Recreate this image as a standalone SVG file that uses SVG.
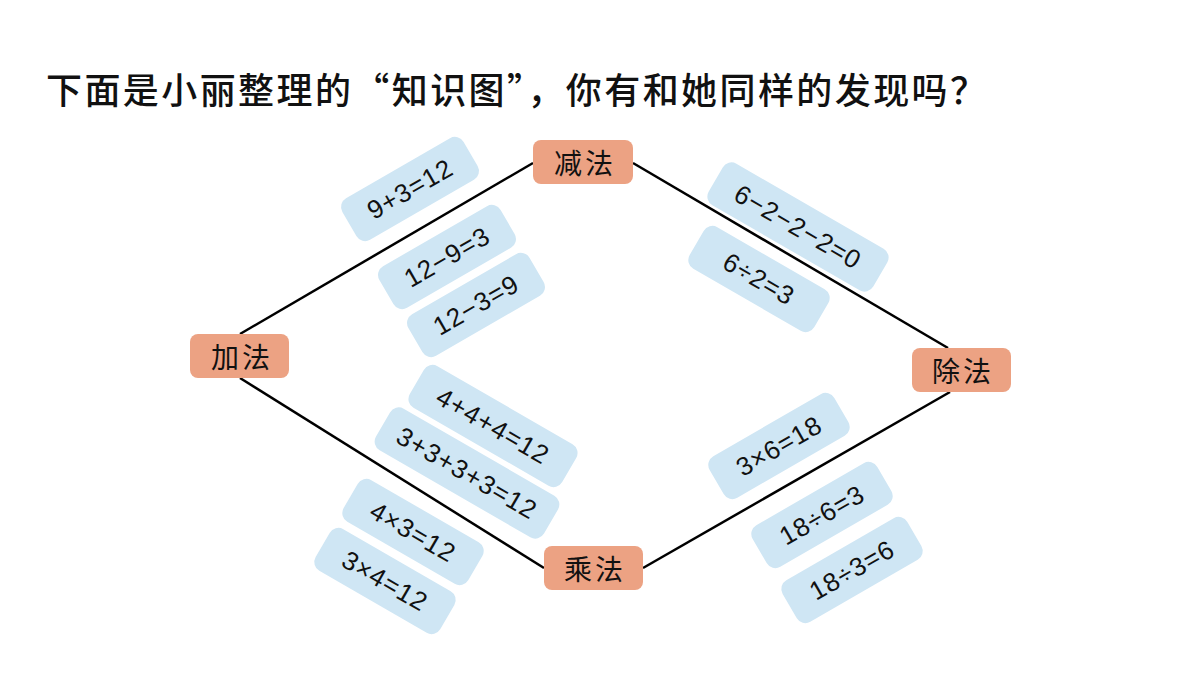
<svg xmlns="http://www.w3.org/2000/svg" width="1200" height="675" viewBox="0 0 1200 675">
<style>
.n rect{fill:#eca283;}
.n text{font-family:"Noto Sans CJK SC",sans-serif;font-size:28px;fill:#111;text-anchor:middle;dominant-baseline:central;letter-spacing:3px;}
.p rect{fill:#cfe6f4;}
.p text{font-family:"Liberation Sans",sans-serif;font-size:26px;fill:#111;text-anchor:middle;dominant-baseline:central;letter-spacing:1px;}
.c line{stroke:#000;stroke-width:2.5;}
</style>
<rect width="1200" height="675" fill="#fff"/>
<text x="46" y="104" font-family="Noto Sans CJK SC,sans-serif" font-size="36" font-weight="500" fill="#111" textLength="940">下面是小丽整理的“知识图”，你有和她同样的发现吗？</text>
<g id="connectors" class="c">
<line x1="240" y1="334" x2="533" y2="163"/>
<line x1="633" y1="163" x2="948" y2="348"/>
<line x1="240" y1="378" x2="544" y2="568"/>
<line x1="643" y1="568" x2="950" y2="392"/>
</g>
<g id="n-jian" class="n"><rect x="533" y="140" width="100" height="44" rx="8"/><text x="585" y="162">减法</text></g>
<g id="n-jia" class="n"><rect x="190" y="334" width="99" height="44" rx="8"/><text x="242" y="356">加法</text></g>
<g id="n-chu" class="n"><rect x="912" y="348" width="99" height="44" rx="8"/><text x="963" y="370">除法</text></g>
<g id="n-cheng" class="n"><rect x="544" y="546" width="99" height="44" rx="8"/><text x="595" y="568">乘法</text></g>
<g id="p1" class="p" transform="translate(410,189) rotate(-30)"><rect x="-70" y="-24" width="140" height="48" rx="10"/><text>9+3=12</text></g>
<g id="p2" class="p" transform="translate(447,257) rotate(-30)"><rect x="-70" y="-24" width="140" height="48" rx="10"/><text>12−9=3</text></g>
<g id="p3" class="p" transform="translate(476,305) rotate(-30)"><rect x="-70" y="-24" width="140" height="48" rx="10"/><text>12−3=9</text></g>
<g id="p4" class="p" transform="translate(798,227) rotate(30)"><rect x="-95" y="-24" width="190" height="48" rx="10"/><text>6−2−2−2=0</text></g>
<g id="p5" class="p" transform="translate(759,279) rotate(30)"><rect x="-72" y="-24" width="144" height="48" rx="10"/><text>6÷2=3</text></g>
<g id="p6" class="p" transform="translate(493,426) rotate(30)"><rect x="-88" y="-24" width="176" height="48" rx="10"/><text>4+4+4=12</text></g>
<g id="p7" class="p" transform="translate(467,473) rotate(30)"><rect x="-97" y="-24" width="194" height="48" rx="10"/><text>3+3+3+3=12</text></g>
<g id="p8" class="p" transform="translate(413,532) rotate(30)"><rect x="-72" y="-24" width="144" height="48" rx="10"/><text>4×3=12</text></g>
<g id="p9" class="p" transform="translate(385,581) rotate(30)"><rect x="-72" y="-24" width="144" height="48" rx="10"/><text>3×4=12</text></g>
<g id="p10" class="p" transform="translate(779,446) rotate(-30)"><rect x="-72" y="-24" width="144" height="48" rx="10"/><text>3×6=18</text></g>
<g id="p11" class="p" transform="translate(822,515) rotate(-30)"><rect x="-72" y="-24" width="144" height="48" rx="10"/><text>18÷6=3</text></g>
<g id="p12" class="p" transform="translate(852,570) rotate(-30)"><rect x="-72" y="-24" width="144" height="48" rx="10"/><text>18÷3=6</text></g>
</svg>
